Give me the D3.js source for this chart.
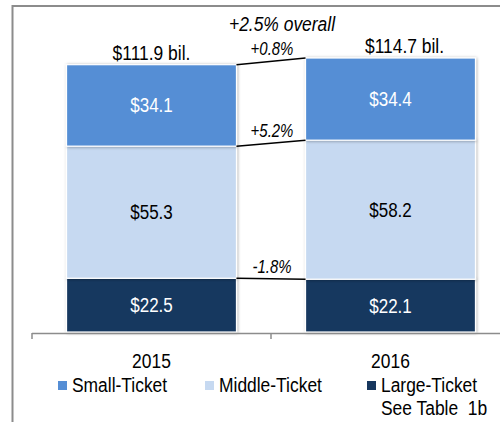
<!DOCTYPE html>
<html>
<head>
<meta charset="utf-8">
<script src="https://cdn.jsdelivr.net/npm/d3@7"></script>
<style>
  body { margin: 0; background: #fff; }
  text { font-family: "Liberation Sans", Arial, sans-serif; white-space: pre; }
</style>
</head>
<body>
<svg id="chart" width="500" height="422"></svg>
<script>
// data
var years = ["2015", "2016"];
var segments = ["Large-Ticket", "Middle-Ticket", "Small-Ticket"];
var large = [22.5, 22.1];
var middle = [55.3, 58.2];
var small = [34.1, 34.4];
var totals = ["$111.9 bil.", "$114.7 bil."];
var changes = ["-1.8%", "+5.2%", "+0.8%"];   // large, middle, small (bottom to top)
var overall = "+2.5% overall";
var legendOrder = ["Small-Ticket", "Middle-Ticket", "Large-Ticket"];
var note = "See Table  1b";

var colors = {"Small-Ticket": "#558ed5", "Middle-Ticket": "#c6d9f1", "Large-Ticket": "#17375e"};
var textColors = {"Small-Ticket": "#fff", "Middle-Ticket": "#000", "Large-Ticket": "#fff"};

var svg = d3.select("#chart");

// narrow look: squeeze Liberation Sans horizontally
var squeeze = 0.83;
function label(parent, px, py, size, txt) {
    return parent.append("text")
        .attr("transform", "translate(" + px + "," + py + ") scale(" + squeeze + ",1)")
        .attr("font-size", size)
        .text(txt);
}

// shadow for bars
var defs = svg.append("defs");
var f = defs.append("filter").attr("id", "shadow")
    .attr("x", "-5%").attr("y", "-5%").attr("width", "115%").attr("height", "115%");
f.append("feDropShadow").attr("dx", 0.8).attr("dy", 0.5)
    .attr("stdDeviation", 1.8).attr("flood-color", "#000").attr("flood-opacity", 0.35);

// frame around the chart
svg.append("path")
    .attr("d", "M12.5,422 L12.5,6 L500,6")
    .attr("fill", "none")
    .attr("stroke", "#8c8c8c")
    .attr("stroke-width", 2);

var x = d3.scaleBand()
    .domain(years)
    .range([32, 510])
    .paddingInner(0.289)
    .paddingOuter(0.289 / 2);

var y = d3.scaleLinear()
    .domain([0, 114.7])
    .range([332, 58]);

// stacked data
var table = years.map(function (yr, i) {
    return {year: yr, "Large-Ticket": large[i], "Middle-Ticket": middle[i], "Small-Ticket": small[i]};
});
var stack = d3.stack().keys(segments)(table);

var bars = svg.append("g");
var labels = svg.append("g");
stack.forEach(function (layer) {
    var key = layer.key;
    bars.selectAll("rect." + key)
        .data(layer)
        .join("rect")
        .attr("x", function (d) { return x(d.data.year); })
        .attr("y", function (d) { return y(d[1]); })
        .attr("width", x.bandwidth())
        .attr("height", function (d) { return y(d[0]) - y(d[1]); })
        .attr("fill", colors[key])
        .attr("stroke", "#fff")
        .attr("stroke-width", 1.2)
        .attr("filter", "url(#shadow)");

    layer.forEach(function (d) {
        label(labels, x(d.data.year) + x.bandwidth() / 2, (y(d[0]) + y(d[1])) / 2 + 7, 20.5,
              "$" + d3.format(".1f")(d[1] - d[0]))
            .attr("text-anchor", "middle")
            .attr("fill", textColors[key]);
    });
});

// connector lines between the bars
var x0 = x("2015") + x.bandwidth();
var x1 = x("2016");
var xm = (x0 + x1) / 2;
stack.forEach(function (layer, i) {
    var ya = y(layer[0][1]), yb = y(layer[1][1]);
    svg.append("line")
        .attr("x1", x0).attr("y1", ya)
        .attr("x2", x1).attr("y2", yb)
        .attr("stroke", "#000")
        .attr("stroke-width", 1.5);
    label(svg, xm + 1, (ya + yb) / 2 - 6, 18, changes[i])
        .attr("text-anchor", "middle")
        .attr("font-style", "italic");
});

// total labels above the bars
var totalOffsets = [0, 14];
years.forEach(function (yr, i) {
    var top = stack[stack.length - 1][i][1];
    label(svg, x(yr) + x.bandwidth() / 2 + totalOffsets[i], y(top) - 5, 21, totals[i])
        .attr("text-anchor", "middle");
});

label(svg, xm + 11, 31, 21, overall)
    .attr("text-anchor", "middle")
    .attr("font-style", "italic");

// x axis: line with ticks at category boundaries
var axis = svg.append("g");
axis.append("line")
    .attr("x1", x.range()[0]).attr("x2", 500)
    .attr("y1", 333.5).attr("y2", 333.5)
    .attr("stroke", "#8c8c8c").attr("stroke-width", 1.5);
axis.selectAll("line.tick")
    .data(years)
    .join("line")
    .attr("x1", function (d) { return x(d) - x.step() * x.paddingInner() / 2; })
    .attr("x2", function (d) { return x(d) - x.step() * x.paddingInner() / 2; })
    .attr("y1", 333).attr("y2", 339)
    .attr("stroke", "#8c8c8c").attr("stroke-width", 1.5);
years.forEach(function (yr) {
    label(axis, x(yr) + x.bandwidth() / 2, 368, 21, yr).attr("text-anchor", "middle");
});

// legend
var legendX = [58, 205, 367];
var legend = svg.append("g");
legendOrder.forEach(function (k, i) {
    legend.append("rect")
        .attr("x", legendX[i]).attr("y", 381)
        .attr("width", 9).attr("height", 9)
        .attr("fill", colors[k]);
    label(legend, legendX[i] + 14, 392, 21, k);
});
label(legend, legendX[2] + 14, 415, 21, note);
</script>
</body>
</html>
